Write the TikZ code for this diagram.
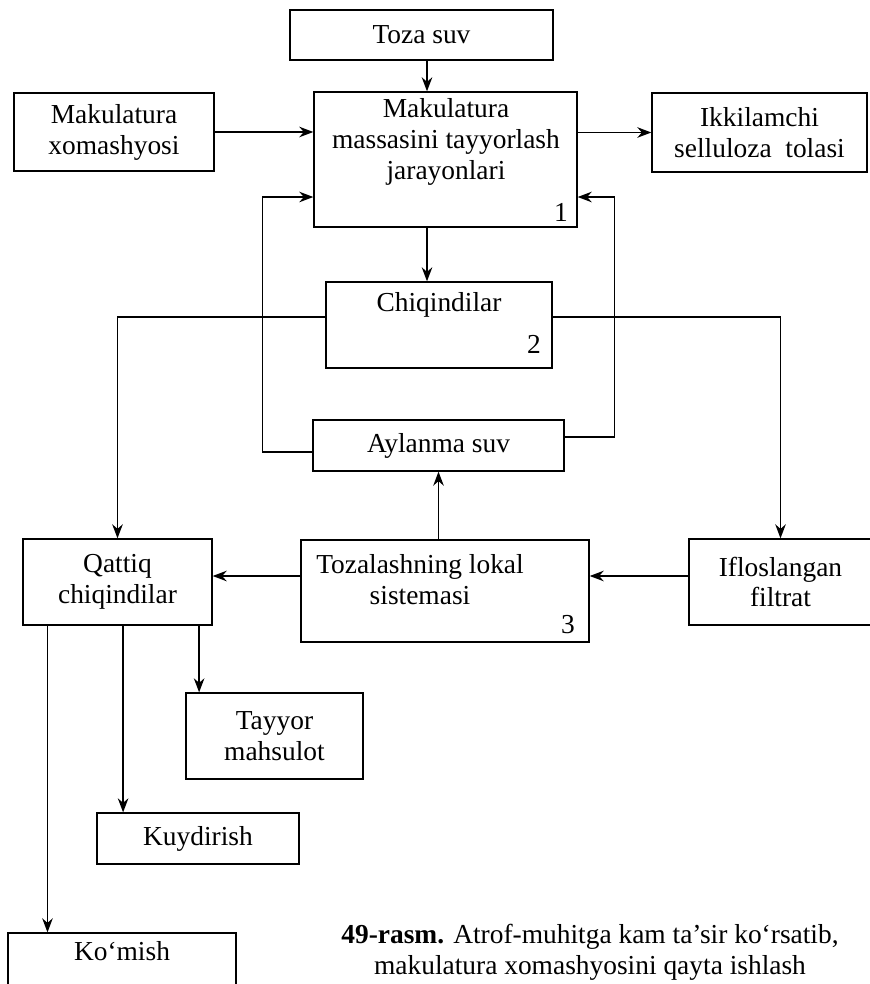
\documentclass[tikz,border=0pt]{standalone}
\usepackage{fontspec}
\setmainfont{Liberation Serif}
\usetikzlibrary{arrows.meta}
\begin{document}
\begin{tikzpicture}[x=0.025cm, y=-0.025cm,
  box/.style={draw, line width=0.9pt, inner sep=0pt},
  lbl/.style={align=center, font=\fontsize{19.5}{22}\selectfont},
  num/.style={font=\fontsize{19.5}{22}\selectfont},
  arr/.style={-{Stealth[length=10pt,width=7.5pt]}, line width=1.1pt},
  ln/.style={line width=0.9pt}]
  \useasboundingbox (0,0) rectangle (869,984);
  % top row
  \node[box, lbl, minimum width=6.575cm, minimum height=1.25cm] (toza) at (421.5,35) {Toza suv};
  \node[box, lbl, minimum width=5cm, minimum height=1.95cm] (xom) at (114,132) {Makulatura\\xomashyosi};
  \node[box, minimum width=6.575cm, minimum height=3.375cm] (main) at (445.5,159.5) {};
  \node[lbl] (main-t) at (446,142) {Makulatura\\massasini tayyorlash\\jarayonlari};
  \node[num] (n1) at (561,212) {1};
  \node[box, lbl, minimum width=5.375cm, minimum height=1.975cm] (ikki) at (759.5,132.5) {Ikkilamchi\\selluloza\ \ tolasi};
  % middle
  \node[box, minimum width=5.65cm, minimum height=2.15cm] (chiq) at (439,325) {};
  \node[lbl] (chiq-t) at (439,305) {Chiqindilar};
  \node[num] (n2) at (534,344) {2};
  \node[box, lbl, minimum width=6.275cm, minimum height=1.275cm] (ayl) at (438.5,445.5) {Aylanma suv};
  % lower row
  \node[box, lbl, minimum width=4.725cm, minimum height=2.15cm] (qat) at (117.5,582) {Qattiq\\chiqindilar};
  \node[box, minimum width=7.2cm, minimum height=2.55cm] (toz) at (445,591) {};
  \node[lbl] (toz-t) at (420,580) {Tozalashning lokal\\sistemasi};
  \node[num] (n3) at (568,625) {3};
  \node[box, lbl, minimum width=4.575cm, minimum height=2.15cm] (ifl) at (780.5,582) {Ifloslangan\\filtrat};
  % outputs
  \node[box, lbl, minimum width=4.425cm, minimum height=2.15cm] (tay) at (274.5,736) {Tayyor\\mahsulot};
  \node[box, lbl, minimum width=5.05cm, minimum height=1.275cm] (kuy) at (198,838.5) {Kuydirish};
  \node[box, minimum width=5.7cm, minimum height=1.75cm] (kom) at (122,968) {};
  \node[lbl] (kom-t) at (122,951) {Ko‘mish};
  % caption
  \node[lbl] (cap) at (590,952) {\textbf{49-rasm.} Atrof-muhitga kam ta’sir ko‘rsatib,\\makulatura xomashyosini qayta ishlash};
  % arrows
  \coordinate (axis) at (427,0);
  \draw[arr] (toza.south -| axis) -- (main.north -| axis);
  \draw[arr] (xom.east) -- (xom -| main.west);
  \draw[arr] (ikki -| main.east) -- (ikki.west);
  \draw[arr] (main.south -| axis) -- (chiq.north -| axis);
  \draw[arr] ([yshift=0.2cm]chiq.west) -| (qat.north);
  \draw[arr] ([yshift=0.2cm]chiq.east) -| (ifl.north);
  \draw[arr] ([yshift=-0.1625cm]ayl.west) -- ++(-50,0) |- ([yshift=-0.9375cm]main.west);
  \draw[arr] ([yshift=0.2125cm]ayl.east) -- ++(50,0) |- ([yshift=-0.9375cm]main.east);
  \draw[arr] (ayl |- toz.north) -- (ayl.south);
  \draw[arr] ([yshift=0.15cm]ifl.west) -- ([yshift=0.15cm]ifl.west -| toz.east);
  \draw[arr] ([yshift=0.15cm]qat.east -| toz.west) -- ([yshift=0.15cm]qat.east);
  \draw[arr] ([xshift=-1.75cm]qat.south) -- ([xshift=-1.75cm]qat.south |- kom.north);
  \draw[arr] ([xshift=0.14cm]qat.south) -- ([xshift=0.14cm]qat.south |- kuy.north);
  \draw[arr] ([xshift=2.04cm]qat.south) -- ([xshift=2.04cm]qat.south |- tay.north);
\end{tikzpicture}
\end{document}
